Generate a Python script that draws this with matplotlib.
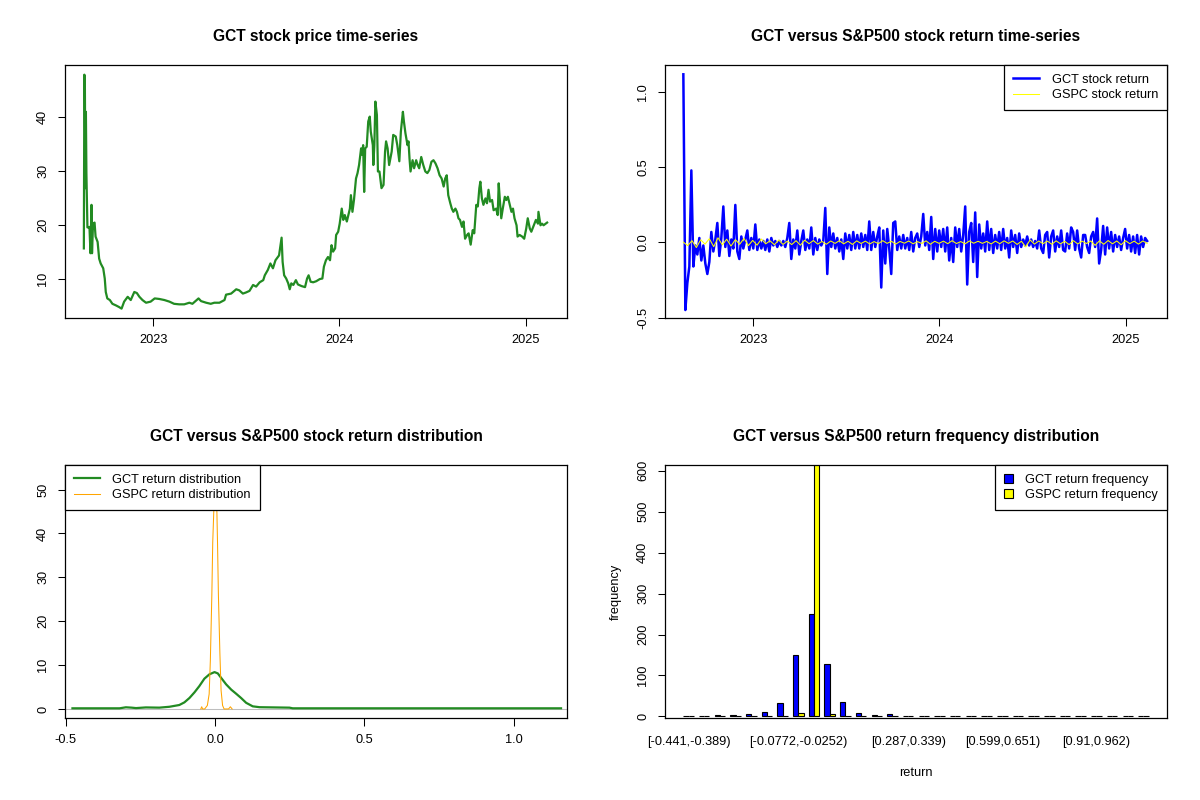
import numpy as np
import pandas as pd
import matplotlib
matplotlib.use("Agg")
import matplotlib.pyplot as plt
import matplotlib.dates as mdates
from matplotlib.lines import Line2D
from matplotlib.patches import Patch

plt.rcParams['font.family'] = ['Liberation Sans', 'DejaVu Sans']

# --- GCT closing price (days after 2022-08-18, USD) ---
price_day = [0, 1, 2, 3, 4, 5, 6, 7, 9, 11, 13, 15, 16, 18, 21, 23, 27, 30, 33, 38,
             41, 43, 46, 51, 56, 63, 69, 74, 79, 86, 92, 99, 104, 109, 115, 122, 131, 139, 148, 158,
             168, 177, 187, 197, 207, 213, 225, 230, 240, 249, 256, 266, 276, 279, 289, 299, 305, 312, 318, 325,
             332, 338, 345, 352, 355, 361, 366, 371, 376, 383, 386, 388, 390, 393, 397, 401, 404, 407, 411, 416,
             420, 427, 434, 438, 441, 445, 450, 456, 463, 468, 471, 475, 479, 483, 486, 489, 493, 495, 499, 502,
             506, 509, 512, 516, 519, 522, 524, 527, 530, 534, 537, 540, 544, 546, 548, 550, 552, 555, 558, 561,
             563, 567, 568, 570, 572, 575, 577, 580, 584, 588, 591, 593, 596, 599, 604, 607, 612, 615, 619, 622,
             626, 628, 631, 635, 637, 639, 641, 645, 648, 652, 655, 658, 662, 666, 670, 674, 678, 682, 686, 690,
             694, 698, 702, 706, 709, 712, 715, 719, 722, 725, 729, 732, 735, 738, 742, 745, 748, 752, 755, 758,
             759, 763, 766, 770, 773, 776, 778, 781, 784, 788, 791, 794, 797, 801, 804, 809, 812, 814, 816, 819,
             822, 826, 829, 832, 835, 839, 842, 845, 849, 851, 855, 860, 864, 868, 871, 875, 878, 883, 887, 891,
             892, 896, 899, 902, 906, 909]
price_close = [15.6, 47.9, 46.0, 26.8, 41.0, 29.6, 25.0, 19.5, 19.5, 19.6, 14.7, 23.7, 14.7, 20.2, 20.4, 17.8, 16.8, 13.7, 12.8, 11.9,
               10.0, 7.5, 6.3, 6.0, 5.3, 5.0, 4.7, 4.4, 5.7, 6.6, 6.0, 7.5, 7.3, 6.6, 6.0, 5.5, 5.7, 6.3, 6.2, 6.0,
               5.7, 5.3, 5.2, 5.2, 5.5, 5.3, 6.3, 5.8, 5.5, 5.3, 5.5, 5.5, 6.0, 7.0, 7.2, 8.0, 7.8, 7.2, 7.4, 7.7,
               8.8, 8.5, 9.3, 9.7, 10.6, 11.6, 12.8, 11.9, 13.4, 14.3, 16.2, 17.6, 13.1, 10.6, 10.0, 9.1, 8.0, 9.1, 8.8, 9.7,
               8.9, 8.6, 8.4, 10.0, 10.6, 9.4, 9.3, 9.5, 9.9, 10.0, 12.2, 13.4, 14.0, 13.4, 16.2, 15.0, 15.6, 18.1, 18.7, 20.2,
               23.0, 20.9, 21.8, 20.6, 21.8, 23.0, 25.5, 22.4, 24.6, 28.6, 29.6, 31.1, 34.2, 33.0, 34.8, 26.1, 34.2, 34.5, 39.2, 40.1,
               37.3, 34.8, 31.1, 34.8, 42.9, 40.4, 29.9, 29.9, 26.8, 27.4, 33.6, 35.5, 34.2, 31.1, 33.6, 36.7, 36.4, 34.8, 31.8, 37.3,
               41.0, 39.2, 37.0, 34.8, 35.5, 32.3, 29.9, 32.0, 30.5, 32.0, 31.1, 30.5, 32.6, 31.1, 29.9, 29.6, 30.2, 31.7, 32.0, 31.4,
               30.5, 29.2, 28.6, 27.1, 28.6, 29.2, 25.5, 24.0, 23.0, 22.4, 23.0, 22.4, 21.2, 20.9, 19.6, 20.6, 17.4, 18.1, 18.4, 16.8,
               16.3, 19.0, 18.4, 23.7, 23.4, 26.8, 28.0, 24.9, 23.7, 24.9, 24.0, 26.5, 24.3, 24.6, 22.7, 23.0, 21.8, 27.7, 24.9, 21.2,
               23.0, 25.2, 24.6, 25.2, 24.0, 22.4, 23.0, 21.2, 19.9, 17.8, 18.1, 17.8, 17.4, 19.3, 21.2, 19.3, 18.7, 19.9, 20.9, 20.2,
               22.4, 19.9, 20.2, 19.9, 20.2, 20.4]

# --- daily returns (sampled evenly 2022-08-17 .. 2025-02-12) ---
gct_ret = [1.12, -0.45, -0.27, -0.16, 0.48, -0.16, -0.02, -0.08, 0.03, -0.12,
           -0.02, -0.14, -0.21, -0.13, 0.07, -0.06, 0.02, 0.13, -0.09, 0.03,
           0.24, -0.03, 0.08, -0.09, 0.02, -0.04, 0.25, -0.06, -0.11, 0.04,
           -0.04, 0.02, 0.08, -0.05, 0.03, -0.04, 0.12, -0.05, 0.02, -0.04,
           0.01, -0.05, 0.02, -0.06, 0.03, -0.02, 0.01, -0.03, 0.01, -0.02,
           0.01, -0.03, 0.03, 0.13, -0.11, 0.02, -0.04, 0.08, -0.08, 0.01,
           0.08, -0.05, 0.02, -0.04, 0.10, -0.08, 0.03, -0.05, 0.02, -0.02,
           0.01, 0.23, -0.21, 0.10, -0.03, 0.06, -0.04, 0.03, -0.06, 0.02,
           -0.11, 0.06, -0.04, 0.05, -0.05, 0.07, -0.04, 0.05, -0.04, 0.06,
           -0.03, 0.05, -0.05, 0.14, -0.05, 0.07, -0.03, 0.04, 0.10, -0.30,
           0.08, -0.14, 0.09, -0.04, -0.21, 0.13, 0.14, -0.05, 0.04, -0.04,
           0.05, -0.04, 0.03, -0.05, 0.07, -0.06, 0.03, 0.06, -0.03, 0.04,
           0.19, -0.02, 0.07, -0.05, 0.17, -0.11, 0.09, -0.06, 0.08, -0.03,
           0.09, -0.06, 0.10, -0.12, 0.03, -0.13, 0.10, -0.03, 0.09, -0.06,
           0.05, 0.24, -0.28, 0.07, 0.13, -0.13, 0.20, -0.23, 0.12, -0.04,
           0.06, -0.06, 0.14, -0.05, 0.09, -0.07, 0.05, -0.04, 0.07, -0.05,
           0.09, -0.04, 0.03, -0.10, 0.08, -0.03, 0.05, -0.07, 0.06, -0.03,
           0.02, -0.02, 0.04, -0.02, 0.02, -0.03, 0.01, -0.04, 0.08, -0.04,
           -0.07, 0.05, 0.07, -0.10, 0.04, 0.08, -0.06, 0.04, -0.03, 0.08,
           -0.05, -0.06, 0.06, -0.04, 0.10, 0.07, -0.05, 0.08, -0.04, -0.10,
           0.05, 0.05, -0.03, -0.07, 0.04, 0.07, -0.03, 0.16, -0.14, -0.05,
           0.11, -0.08, 0.10, -0.04, 0.07, -0.06, 0.05, -0.03, 0.04, -0.05,
           0.03, 0.09, -0.04, 0.05, -0.06, 0.04, -0.07, 0.05, -0.08, 0.04,
           -0.03, 0.03, 0.01]
gspc_ret = [0.002, -0.021, 0.012, -0.034, 0.018, -0.011, 0.025, -0.028, 0.031, -0.016,
            0.022, -0.024, 0.019, -0.012, 0.027, -0.021, 0.014, -0.018, 0.023, -0.009,
            0.011, -0.015, 0.016, -0.013, 0.009, -0.014, 0.012, -0.018, 0.015, -0.008,
            0.013, -0.011, 0.007, -0.012, 0.010, -0.006, 0.012, -0.009, 0.008, -0.013,
            0.011, -0.007, 0.009, -0.010, 0.006, -0.008, 0.012, -0.006, 0.008, -0.011,
            0.007, -0.005, 0.010, -0.009, 0.006, -0.007, 0.011, -0.012, 0.008, -0.006,
            0.009, -0.008, 0.012, -0.007, 0.006, -0.009, 0.010, -0.005, 0.008, -0.006,
            0.007, -0.010, 0.009, -0.008, 0.011, -0.006, 0.010, -0.013, 0.008, -0.030,
            0.017, -0.011, 0.010, -0.008, 0.009, -0.012, 0.011, -0.009, 0.008, -0.014,
            0.012, -0.010, 0.009, -0.007, 0.010, -0.019, 0.011, -0.012, 0.013, -0.009,
            0.010, -0.015, 0.012, -0.008, 0.009, -0.011, 0.010, -0.006]
ret_start, ret_end = '2022-08-17', '2025-02-12'

# --- kernel density curves ---
gct_dens_x = [-0.478, -0.40, -0.32, -0.299, -0.28, -0.265, -0.232, -0.187, -0.153, -0.120,
              -0.103, -0.086, -0.069, -0.053, -0.036, -0.019, -0.002, 0.009, 0.020, 0.037,
              0.054, 0.070, 0.087, 0.104, 0.126, 0.149, 0.20, 0.249, 0.26, 0.40,
              0.60, 0.80, 1.00, 1.159]
gct_dens_y = [0.15, 0.15, 0.15, 0.38, 0.30, 0.20, 0.35, 0.30, 0.5, 0.9,
              1.5, 2.5, 3.8, 5.2, 6.9, 7.9, 8.4, 8.1, 7.1, 5.6,
              4.4, 3.5, 2.5, 1.4, 0.6, 0.4, 0.35, 0.3, 0.15, 0.15,
              0.15, 0.15, 0.15, 0.15]
gspc_dens_x = [-0.048, -0.045, -0.042, -0.035, -0.026, -0.020, -0.016, -0.011, -0.008, -0.004,
               0.001, 0.006, 0.008, 0.011, 0.016, 0.020, 0.025, 0.030, 0.045, 0.051, 0.057]
gspc_dens_y = [0.0, 0.5, 0.0, 0.0, 0.8, 3.4, 11.0, 26.0, 38.0, 46.0,
               53.2, 44.7, 38.0, 26.0, 12.6, 4.2, 0.8, 0.0, 0.0, 0.5, 0.0]

# --- return frequency per bin (30 bins of width 0.052 from -0.441) ---
gct_freq = [2, 0, 3, 3, 6, 11, 33, 150, 249, 128, 36, 8, 3, 5, 0,
            0, 0, 2, 0, 0, 0, 0, 0, 0, 0, 0, 0, 0, 0, 1]
gspc_freq = [0, 0, 0, 0, 0, 0, 1, 8, 626, 5, 0, 0, 0, 0, 0,
             0, 0, 0, 0, 0, 0, 0, 0, 0, 0, 0, 0, 0, 0, 0]
bin_label_pos = [1, 8, 15, 21, 27]
bin_labels = ['[-0.441,-0.389)', '[-0.0772,-0.0252)', '[0.287,0.339)',
              '[0.599,0.651)', '[0.91,0.962)']

FS = 9.2
W, H = 1200, 800


def box(x0, y0, x1, y1):
    return [x0 / W, 1 - y1 / H, (x1 - x0) / W, (y1 - y0) / H]


def style(ax, title):
    for s in ax.spines.values():
        s.set_linewidth(0.9)
        s.set_color('black')
    ax.tick_params(length=5.4, width=0.75, pad=6.0, labelsize=FS, color='black')
    ax.tick_params(axis='y', labelrotation=90)
    plt.setp(ax.get_yticklabels(), va='center')
    ax.set_title(title, fontsize=11.2, fontweight='bold', pad=17)


def legend(ax, handles, labels, loc, hl=2.0):
    leg = ax.legend(handles, labels, loc=loc, borderaxespad=0, fancybox=False,
                    edgecolor='black', framealpha=1, fontsize=FS, handlelength=hl,
                    handleheight=0.7, handletextpad=1.0, borderpad=0.7, labelspacing=0.25)
    leg.get_frame().set_linewidth(0.9)
    return leg


fig = plt.figure(figsize=(12, 8), dpi=100)
ax1 = fig.add_axes(box(65, 65, 567, 318))
ax2 = fig.add_axes(box(665, 65, 1167, 318))
ax3 = fig.add_axes(box(65, 465, 567, 718))
ax4 = fig.add_axes(box(665, 465, 1167, 718))

tlim = (pd.Timestamp('2022-07-12'), pd.Timestamp('2025-03-23'))

# 1: price
price_dates = pd.Timestamp('2022-08-18') + pd.to_timedelta(price_day, unit='D')
ax1.plot(price_dates, price_close, color='#228B22', lw=1.6)
ax1.set_xlim(tlim)
ax1.set_ylim(2.66, 49.7)
ax1.set_yticks([10, 20, 30, 40])
for ax in (ax1, ax2):
    ax.xaxis.set_major_locator(mdates.YearLocator())
    ax.xaxis.set_major_formatter(mdates.DateFormatter('%Y'))
style(ax1, 'GCT stock price time-series')

# 2: returns
gct_dates = pd.date_range(ret_start, ret_end, periods=len(gct_ret))
gspc_dates = pd.date_range(ret_start, ret_end, periods=len(gspc_ret))
ax2.plot(gct_dates, gct_ret, color='blue', lw=1.8)
ax2.plot(gspc_dates, gspc_ret, color='yellow', lw=0.75)
ax2.set_xlim(tlim)
ax2.set_ylim(-0.503, 1.182)
rt = [-0.5, 0.0, 0.5, 1.0]
ax2.set_yticks(rt, labels=[f'{v:.1f}' for v in rt])
style(ax2, 'GCT versus S&P500 stock return time-series')
legend(ax2, [Line2D([], [], color='blue', lw=1.8), Line2D([], [], color='yellow', lw=0.75)],
       ['GCT stock return', 'GSPC stock return'], 'upper right')

# 3: density
ax3.axhline(0, color='#BEBEBE', lw=0.75, zorder=1)
ax3.plot(gct_dens_x, gct_dens_y, color='#228B22', lw=1.6, zorder=2)
ax3.plot(gspc_dens_x, gspc_dens_y, color='orange', lw=0.75, zorder=3)
ax3.set_xlim(-0.503, 1.179)
ax3.set_ylim(-2.06, 55.6)
ax3.set_xticks(rt, labels=[f'{v:.1f}' for v in rt])
ax3.set_yticks([0, 10, 20, 30, 40, 50])
style(ax3, 'GCT versus S&P500 stock return distribution')
legend(ax3, [Line2D([], [], color='#228B22', lw=1.6), Line2D([], [], color='orange', lw=0.75)],
       ['GCT return distribution', 'GSPC return distribution'], 'upper left')

# 4: frequency bars
grp = np.arange(1, len(gct_freq) + 1)
ax4.bar(3 * grp - 1.5, gct_freq, width=1, color='blue', edgecolor='black', linewidth=0.8)
ax4.bar(3 * grp - 0.5, gspc_freq, width=1, color='yellow', edgecolor='black', linewidth=0.8)
ax4.set_xlim(-2.5, 93.5)
ax4.set_ylim(-3.9, 614)
ax4.set_yticks([0, 100, 200, 300, 400, 500, 600])
ax4.set_xticks(3 * np.array(bin_label_pos) - 1, labels=bin_labels)
style(ax4, 'GCT versus S&P500 return frequency distribution')
ax4.tick_params(axis='x', length=0, pad=13)
ax4.set_xlabel('return', fontsize=FS, labelpad=14)
ax4.set_ylabel('frequency', fontsize=FS, labelpad=11)
legend(ax4, [Patch(facecolor='blue', edgecolor='black', lw=0.8),
             Patch(facecolor='yellow', edgecolor='black', lw=0.8)],
       ['GCT return frequency', 'GSPC return frequency'], 'upper right', hl=0.7)

fig.savefig('out.png', dpi=100)
